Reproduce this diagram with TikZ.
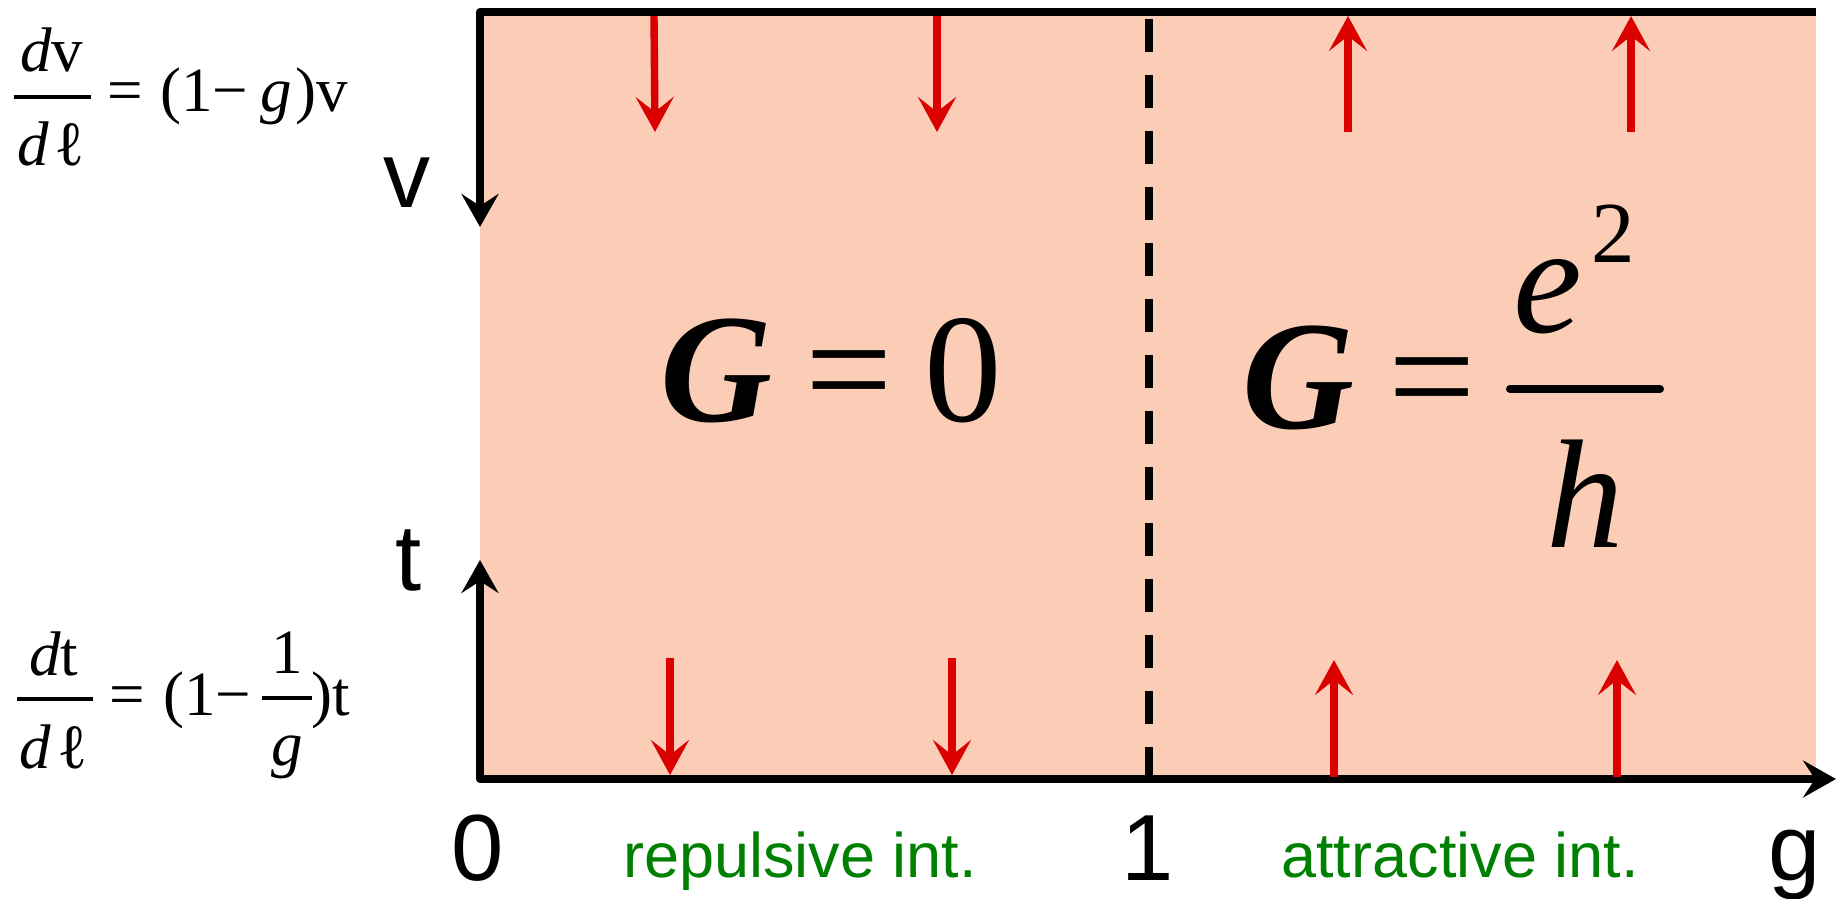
\documentclass[tikz,border=0pt]{standalone}
\usepackage{fontspec}
\setmainfont{Liberation Serif}
\newfontfamily\arialf{Liberation Sans}
\usetikzlibrary{arrows.meta}
\definecolor{pinkfill}{RGB}{251,205,182}
\definecolor{arrred}{RGB}{218,0,0}
\definecolor{labgreen}{RGB}{0,128,0}
\newcommand{\fsz}[1]{\fontsize{#1}{#1}\selectfont}
\begin{document}
\begin{tikzpicture}[x=0.5pt,y=-0.5pt,
  axisline/.style={line width=4pt, line join=round, black},
  blacktip/.tip={Stealth[length=16.5pt,width=18.5pt,inset=6pt]},
  redtip/.tip={Stealth[length=17.5pt,width=19pt,inset=7.5pt]},
  flow/.style={line width=3.7pt, arrred, -redtip},
  lbl/.style={inner sep=0pt, anchor=base, font=\arialf\fsz{47}},
  greenlbl/.style={inner sep=0pt, anchor=base, font=\arialf\fsz{31.5}, text=labgreen},
  eqtxt/.style={inner sep=0pt, anchor=base, font=\fsz{31.5}},
  bigtxt/.style={inner sep=0pt, anchor=base, font=\fsz{77.5}},
  fracbar/.style={line width=2.3pt},
]
\useasboundingbox (0,0) rectangle (1837,899);

% background region
\fill[pinkfill] (480,12) rectangle (1816,779);

% axes
\coordinate (tr) at (1816,12);
\coordinate (tl) at (480,12);
\coordinate (vtip) at (480,227);
\coordinate (ttip) at (480,560);
\coordinate (bl) at (480,779);
\coordinate (gtip) at (1836,779);
\draw[axisline, -blacktip] (tr) -- (tl) -- (vtip);
\draw[axisline, blacktip-blacktip] (ttip) -- (bl) -- (gtip);

% dashed line at g = 1
\coordinate (dtop) at (1149,19);
\coordinate (dbot) at (1149,779);
\draw[line width=4pt, dash pattern=on 16.5pt off 11.5pt] (dtop) -- (dbot);

% red flow arrows
\coordinate (a1s) at (654,16);  \coordinate (a1e) at (655,132);
\coordinate (a2s) at (937,16);  \coordinate (a2e) at (937,132);
\coordinate (a3s) at (1348,132); \coordinate (a3e) at (1348,16);
\coordinate (a4s) at (1631,132); \coordinate (a4e) at (1631,16);
\coordinate (b1s) at (670,658); \coordinate (b1e) at (670,775);
\coordinate (b2s) at (952,658); \coordinate (b2e) at (952,775);
\coordinate (b3s) at (1334,777); \coordinate (b3e) at (1334,660);
\coordinate (b4s) at (1617,777); \coordinate (b4e) at (1617,660);
\draw[flow] (a1s) -- (a1e);
\draw[flow] (a2s) -- (a2e);
\draw[flow] (a3s) -- (a3e);
\draw[flow] (a4s) -- (a4e);
\draw[flow] (b1s) -- (b1e);
\draw[flow] (b2s) -- (b2e);
\draw[flow] (b3s) -- (b3e);
\draw[flow] (b4s) -- (b4e);

% axis labels
\node[lbl] (vlab) at (407,207) {v};
\node[lbl] (tlab) at (409,590) {t};
\node[lbl] (zero) at (478,880) {0};
\node[lbl] (one) at (1148,880) {1};
\node[lbl] (glab) at (1795,880) {g};
\node[greenlbl] (rep) at (800,877) {repulsive int.};
\node[greenlbl] (att) at (1460,877) {attractive int.};

% G = 0
\node[bigtxt] (G1) at (716,421) {\bfseries\itshape G};
\node[bigtxt] (eq1) at (849.5,421) {=};
\node[bigtxt] (z1) at (963,421) {0};

% G = e^2/h
\node[bigtxt] (G2) at (1298,428) {\bfseries\itshape G};
\node[bigtxt] (eq2) at (1432,428) {=};
\coordinate (fb1) at (1510,389);
\coordinate (fb2) at (1660,389);
\draw[line width=4pt, line cap=round] (fb1) -- (fb2);
\node[bigtxt] (enum) at (1548,332) {\itshape e};
\node[inner sep=0pt, anchor=base, font=\fsz{43.5}] (sup2) at (1613,262) {2};
\node[bigtxt] (hden) at (1585,547) {\itshape h};

% dv/dl = (1-g)v
\node[eqtxt] (n1) at (51.5,72) {{\itshape d}v};
\coordinate (f1a) at (14,97);
\coordinate (f1b) at (91,97);
\draw[fracbar] (f1a) -- (f1b);
\node[eqtxt] (d1) at (51,165) {{\itshape d}\kern3pt ℓ};
\node[eqtxt] (e1) at (125,112) {=};
\node[eqtxt, anchor=base west] (r1) at (160,112) {(1−\kern6pt{\itshape g}\kern2pt)v};

% dt/dl = (1-1/g)t
\node[eqtxt] (n2) at (54,675) {{\itshape d}t};
\coordinate (f2a) at (17,699);
\coordinate (f2b) at (93,699);
\draw[fracbar] (f2a) -- (f2b);
\node[eqtxt] (d2) at (53.5,768) {{\itshape d}\kern3pt ℓ};
\node[eqtxt] (e2) at (127.5,715) {=};
\node[eqtxt, anchor=base west] (p2) at (163,715) {(1−};
\node[eqtxt] (sn) at (287,673) {1};
\coordinate (f3a) at (262,698);
\coordinate (f3b) at (312,698);
\draw[fracbar] (f3a) -- (f3b);
\node[eqtxt] (sd) at (287,765) {\itshape g};
\node[eqtxt, anchor=base west] (p3) at (311,715) {)t};
\end{tikzpicture}
\end{document}
